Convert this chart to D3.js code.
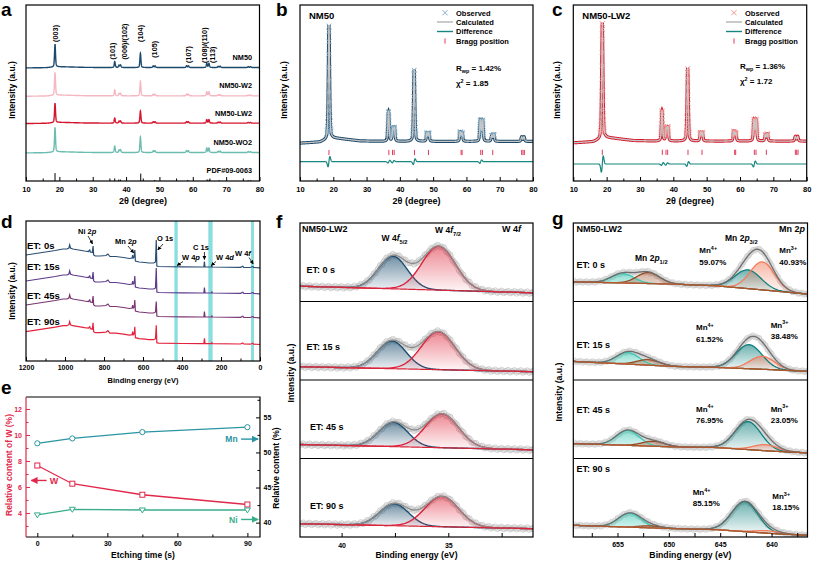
<!DOCTYPE html>
<html><head><meta charset="utf-8">
<script src="https://cdn.jsdelivr.net/npm/d3@7"></script>
<style>
body{margin:0;background:#fff;}
svg{display:block;}
</style></head><body>
<script>
// ================= DATA =================
// XRD (panels a-c): reflections and relative intensities
const xrdPeakPos = [18.7, 36.6, 37.9, 38.35, 44.3, 48.15, 48.7, 58.15, 58.7, 64.2, 64.85, 67.6, 68.2, 76.6, 77.3];
const xrdPeakRel = [1.00, 0.26, 0.10, 0.11, 0.63, 0.07, 0.07, 0.08, 0.07, 0.18, 0.18, 0.05, 0.06, 0.04, 0.04];
const xrdBgPos = [10, 16, 19.5, 22, 28, 35, 80];
const xrdBgVal = [-1, 0, 3.5, 3, 1, 0.5, 0.5];
// panel a
const aSamples = ['NM50', 'NM50-W2', 'NM50-LW2', 'NM50-WO2'];
const aOffset = [64.4, 48.3, 32.8, 16.1];
const aPeakScale = [13, 13, 11, 14];
const aHkl = ['(003)', '(101)', '(006)/(102)', '(104)', '(105)', '(107)', '(108)/(110)', '(113)'];
const aHklPos = [18.7, 35.9, 39.4, 44.4, 48.6, 58.8, 63.5, 65.9];
const aHklBase = [79, 69, 69, 79, 70, 67, 67, 67];
const pdfCard = 'PDF#09-0063';
const pdfPos = [18.7, 36.6, 37.8, 38.3, 44.4, 48.6, 58.5, 64.3, 64.9, 67.9, 76.6, 77.4];
const pdfInt = [4.5, 1.5, 0.8, 0.8, 4.2, 0.6, 0.6, 0.9, 0.7, 0.4, 0.4, 0.4];
// panels b, c (Rietveld)
const rietSample = ['NM50', 'NM50-LW2'];
const rietRwp = ['1.42%', '1.36%'];
const rietChi2 = ['1.85', '1.72'];
const braggPos = [18.7, 36.7, 37.8, 38.3, 44.4, 48.6, 58.4, 58.7, 64.3, 64.8, 67.9, 76.6, 77.0, 77.4];
const diffPos = [18.7, 36.7, 38.0, 44.3, 64.3];
const diffAmp = [[4.5, 1.2, 1.0, 2.5, 1.5], [7.0, 1.2, 1.0, 2.0, 2.5]];
const legendItems = ['Observed', 'Calculated', 'Difference', 'Bragg position'];
// panel d (XPS survey)
const surveyBE = [1200, 1150, 1100, 1050, 1010, 990, 980, 976, 972, 960, 930, 900, 880, 873, 870, 860, 856, 853, 845, 820, 790, 780, 770, 740, 700, 670, 656, 653, 650, 645, 642, 639, 620, 590, 570, 545, 536, 532, 529, 520, 400, 300, 288, 285, 282, 250, 247, 244, 100, 88, 84, 50, 36, 33, 0];
const surveyShape = [0, 1.5, 3, 4.5, 6, 6, 7, 10, 7, 6, 5, 4, 3.5, 5, 3, 2.5, 9, 0, -1, -1, -0.5, 1, -1.5, -1.5, -2.5, -3.5, -3, 0, -3, -2, 5, -6, -7, -7.5, -8, -8, -7, 0, -11, -11.5, -11.8, -12, -12, -6.5, -12, -12, -11, -12, -12.3, -11.2, -12.3, -12.5, -11.5, -12.5, -12.8];
const surveyEtch = ['ET: 0s', 'ET: 15s', 'ET: 45s', 'ET: 90s'];
const surveyLevel = [106, 80, 56, 29.3];
const surveyO1s = [15, 13, 3.5, 6.5];
const surveyBands = [[439, 422], [265, 243], [46, 31]];
// panel e
const etchTime = [0, 15, 45, 90];
const contentW = [7.65, 6.25, 5.4, 4.65];
const contentMn = [51.3, 52.0, 52.9, 53.6];
const contentNi = [41.1, 41.9, 41.8, 41.8];
// panel f (W 4f)
const fEtch = ['ET: 0 s', 'ET: 15 s', 'ET: 45 s', 'ET:  90 s'];
const fW52Center = [37.6, 37.65, 37.58, 37.54];
const fW52Amp = [32.6, 27.7, 24.4, 22.0];
const fW72Center = [35.45, 35.47, 35.3, 35.3];
const fW72Amp = [43.9, 38.0, 33.9, 30.4];
const fFwhm = [1.6, 1.85];
const fBgLeft = [15.3, 13.3, 14.0, 13.3];
const fBgRight = [8.7, 8.3, 8.7, 8.3];
// panel g (Mn 2p)
const gEtch = ['ET: 0 s', 'ET: 15 s', 'ET: 45 s', 'ET: 90 s'];
const gMn4 = ['59.07%', '61.52%', '76.95%', '85.15%'];
const gMn3 = ['40.93%', '38.48%', '23.05%', '18.15%'];
const gBgBE = [659.3, 649.6, 645.4, 639.9, 636.5];
const gBg = [[19.7, 17.4, 15.7, 10.7, 7.4], [18.6, 13.6, 12.6, 10.3, 8.6], [15.0, 11.6, 11.0, 7.3, 5.6], [11.7, 8.4, 7.4, 3.4, 1.7]];
const gMn4p12 = [[654.5, 9.4], [654.0, 11.6], [654.0, 15.0], [653.8, 14.0]];
const gMn3p12 = [[652.0, 11.0], [652.0, 5.5], [651.5, 5.0], [651.8, 2.0]];
const gMn4p32 = [[642.3, 18.7], [642.2, 24.0], [642.3, 28.0], [642.6, 30.0]];
const gMn3p32 = [[640.9, 28.0], [640.9, 13.0], [640.6, 6.0], [640.4, 2.5]];
const gFwhm = [2.6, 2.6, 3.0, 2.8];

// ================= HELPERS =================
const F = '"Liberation Sans", Arial, Helvetica, sans-serif';
const svg = d3.select('body').append('svg').attr('width', 813).attr('height', 561);
const defs = svg.append('defs');

function rich(t, parts, size) {
  let shift = 0;
  parts.forEach(p => {
    const [s, st] = Array.isArray(p) ? p : [p, ''];
    const ts = t.append('tspan').text(s);
    let target = 0;
    if (st.includes('sub')) { target = size * 0.3; ts.attr('font-size', size * 0.68); }
    if (st.includes('sup')) { target = -size * 0.42; ts.attr('font-size', size * 0.68); }
    if (st.includes('it')) ts.attr('font-style', 'italic');
    ts.attr('dy', target - shift); shift = target;
  });
}
function txt(g, x, y, s, o = {}) {
  const size = o.size || 8;
  const t = g.append('text').attr('x', x).attr('y', y).attr('font-family', F)
    .attr('font-weight', 'bold').attr('font-size', size).attr('fill', o.fill || '#000');
  if (o.anchor) t.attr('text-anchor', o.anchor);
  if (o.rotate != null) t.attr('transform', `rotate(${o.rotate},${x},${y})`);
  if (Array.isArray(s)) rich(t, s, size); else t.text(s);
  return t;
}
function frame(x0, y0, x1, y1, color) {
  svg.append('rect').attr('x', x0).attr('y', y0).attr('width', x1 - x0).attr('height', y1 - y0)
    .attr('fill', 'none').attr('stroke', color || '#000').attr('stroke-width', 1.2);
}
function styleAxis(g, o) {
  g.select('.domain').remove();
  g.selectAll('text').attr('font-family', F).attr('font-weight', 'bold').attr('font-size', o.size || 7.5).attr('fill', o.color || '#000');
  g.selectAll('line').attr('stroke', o.color || '#000').attr('stroke-width', 1);
}
function axis(kind, scale, pos, major, minor, o = {}) {
  const mk = { b: d3.axisBottom, l: d3.axisLeft, r: d3.axisRight }[kind];
  const tr = kind === 'b' ? `translate(0,${pos})` : `translate(${pos},0)`;
  const g = svg.append('g').attr('transform', tr);
  const ax = mk(scale).tickValues(major).tickSizeInner(-(o.len || 4)).tickSizeOuter(0).tickPadding(o.pad || 5)
    .tickFormat(o.fmt || d3.format('d'));
  g.call(ax); styleAxis(g, o);
  if (minor) {
    const gm = svg.append('g').attr('transform', tr);
    gm.call(mk(scale).tickValues(minor).tickSizeInner(-(o.mlen || 2.5)).tickSizeOuter(0).tickFormat(''));
    styleAxis(gm, o);
  }
}
function clip(id, x0, y0, x1, y1) {
  defs.append('clipPath').attr('id', id).append('rect').attr('x', x0).attr('y', y0).attr('width', x1 - x0).attr('height', y1 - y0);
  return svg.append('g').attr('clip-path', `url(#${id})`);
}
function vgrad(id, color, op) {
  const lg = defs.append('linearGradient').attr('id', id).attr('x1', 0).attr('y1', 0).attr('x2', 0).attr('y2', 1);
  lg.append('stop').attr('offset', '0%').attr('stop-color', color).attr('stop-opacity', op);
  lg.append('stop').attr('offset', '100%').attr('stop-color', color).attr('stop-opacity', 0.03);
}
function marker(id, color) {
  defs.append('marker').attr('id', id).attr('viewBox', '0 0 10 10').attr('refX', 9).attr('refY', 5)
    .attr('markerWidth', 5).attr('markerHeight', 5).attr('orient', 'auto-start-reverse')
    .append('path').attr('d', 'M0,0 L10,5 L0,10 z').attr('fill', color);
}
function arrow(x1, y1, x2, y2, color, id, w) {
  svg.append('line').attr('x1', x1).attr('y1', y1).attr('x2', x2).attr('y2', y2)
    .attr('stroke', color).attr('stroke-width', w || 1).attr('marker-end', `url(#${id})`);
}
marker('arK', '#000'); marker('arW', '#e0284a'); marker('arMn', '#2a95a3'); marker('arNi', '#38ad8c');
const panelLabel = (x, y, s) => txt(svg, x, y, s, { size: 19 });
const gauss = (x, c, a, w) => { const d = (x - c) / w; return a * Math.exp(-2.7726 * d * d); };

const bgXrd = d3.scaleLinear().domain(xrdBgPos).range(xrdBgVal);
function prof(x, w) {
  let s = 0;
  for (let i = 0; i < xrdPeakPos.length; i++) {
    const d = (x - xrdPeakPos[i]) / w;
    s += xrdPeakRel[i] * (0.55 * Math.exp(-2.7726 * d * d) + 0.45 / (1 + 4 * d * d));
  }
  return s;
}

// ================= PANEL a =================
{
  const xA = d3.scaleLinear([10, 80], [26, 259.5]);
  const yA = d3.scaleLinear([0, 100], [181, 5]);
  const cols = ['#1c4a6c', '#f5b8c2', '#d5152e', '#6cbdb1'];
  const xs = d3.range(10, 80.0001, 0.025);
  const g = clip('clipA', 26, 5, 259.5, 181);
  aSamples.forEach((s, k) => {
    const line = d3.line().x(d => xA(d)).y(d => yA(aOffset[k] + aPeakScale[k] * prof(d, 0.35) + 0.15 * bgXrd(d)));
    g.append('path').attr('d', line(xs)).attr('fill', 'none').attr('stroke', cols[k]).attr('stroke-width', 1.4);
    txt(svg, 252, yA(aOffset[k]) - 7.5, s, { size: 7.3, anchor: 'end' });
  });
  pdfPos.forEach((p, i) => {
    g.append('line').attr('x1', xA(p)).attr('x2', xA(p)).attr('y1', yA(0)).attr('y2', yA(pdfInt[i]))
      .attr('stroke', '#000').attr('stroke-width', 1);
  });
  txt(svg, 252, 173, pdfCard, { size: 7.3, anchor: 'end' });
  aHkl.forEach((h, i) => txt(svg, xA(aHklPos[i]) + 2.7, yA(aHklBase[i]), h, { size: 7.3, rotate: -90 }));
  frame(26, 5, 259.5, 181);
  axis('b', xA, 181, d3.range(10, 81, 10), d3.range(15, 80, 10), { pad: 6, size: 7.5 });
  txt(svg, 143, 204, '2θ (degree)', { size: 9, anchor: 'middle' });
  txt(svg, 15, 90, 'Intensity (a.u.)', { size: 8.5, anchor: 'middle', rotate: -90 });
  panelLabel(1, 16, 'a');
}

// ================= PANELS b, c =================
function rietveld(k, x0, x1, dom, lineCol, markCol, legX, rwpX, rwpY) {
  const xs = d3.scaleLinear([10, 80], [x0, x1]);
  const ys = d3.scaleLinear(dom, [181, 5]);
  const g = clip('clipR' + k, x0, 5, x1, 181);
  const X = d3.range(10, 80.0001, 0.02);
  const obs = x => 100 * prof(x, 0.45) + bgXrd(x);
  const line = d3.line().x(d => xs(d)).y(d => ys(obs(d)));
  g.append('path').attr('d', line(X)).attr('fill', 'none').attr('stroke', lineCol).attr('stroke-width', 3.2);
  d3.range(10, 80.0001, 0.04).filter(x => 100 * prof(x, 0.45) > 5).forEach(x => {
    const cx = xs(x), cy = ys(obs(x)), a = 2.2;
    g.append('path').attr('d', `M${cx - a},${cy - a}L${cx + a},${cy + a}M${cx - a},${cy + a}L${cx + a},${cy - a}`)
      .attr('stroke', markCol).attr('stroke-width', 0.8).attr('fill', 'none');
  });
  g.append('path').attr('d', line(X)).attr('fill', 'none').attr('stroke', '#c6c6c6').attr('stroke-width', 1.3);
  const diff = x => {
    let s = 0;
    diffPos.forEach((p, i) => { const d = (x - p) / 0.28; s += diffAmp[k][i] * d * Math.exp(-d * d / 2) * 1.65; });
    return (k === 0 ? -17.3 : -19.3) + s;
  };
  g.append('path').attr('d', d3.line().x(d => xs(d)).y(d => ys(diff(d)))(X)).attr('fill', 'none')
    .attr('stroke', '#17877f').attr('stroke-width', 1.2);
  braggPos.forEach(p => g.append('line').attr('x1', xs(p)).attr('x2', xs(p)).attr('y1', ys(-9.2) - 2.6).attr('y2', ys(-9.2) + 2.6)
    .attr('stroke', '#e23a5c').attr('stroke-width', 1));
  frame(x0, 5, x1, 181);
  axis('b', xs, 181, d3.range(10, 81, 10), d3.range(15, 80, 10), { pad: 6, size: 7.5 });
  txt(svg, (x0 + x1) / 2, 204, '2θ (degree)', { size: 9, anchor: 'middle' });
  txt(svg, x0 - 13, 90, 'Intensity (a.u.)', { size: 8.5, anchor: 'middle', rotate: -90 });
  txt(svg, x0 + 9, 19, rietSample[k], { size: 9.5 });
  const lg = svg.append('g');
  const a = 2.6, ly = [12.7, 22, 31.5, 41];
  lg.append('path').attr('d', `M${legX - a},${ly[0] - a}L${legX + a},${ly[0] + a}M${legX - a},${ly[0] + a}L${legX + a},${ly[0] - a}`)
    .attr('stroke', markCol).attr('stroke-width', 0.9);
  lg.append('line').attr('x1', legX - 8).attr('x2', legX + 8).attr('y1', ly[1]).attr('y2', ly[1]).attr('stroke', '#bdbdbd').attr('stroke-width', 1.6);
  lg.append('line').attr('x1', legX - 8).attr('x2', legX + 8).attr('y1', ly[2]).attr('y2', ly[2]).attr('stroke', '#17877f').attr('stroke-width', 1.4);
  lg.append('line').attr('x1', legX).attr('x2', legX).attr('y1', ly[3] - 2.6).attr('y2', ly[3] + 2.6).attr('stroke', '#e23a5c').attr('stroke-width', 1);
  legendItems.forEach((s, i) => txt(lg, legX + 11, ly[i] + 2.8, s, { size: 7.5 }));
  txt(svg, rwpX, rwpY, ['R', ['wp', 'sub'], ' = ' + rietRwp[k]], { size: 8 });
  txt(svg, rwpX, rwpY + 15, ['χ', ['2', 'sup'], ' = ' + rietChi2[k]], { size: 8 });
}
rietveld(0, 300, 533, [-34.3, 120.5], '#1b4868', '#7fa6c2', 445, 456, 71);
panelLabel(276, 16, 'b');
rietveld(1, 573.3, 806.7, [-34, 118.2], '#d8192b', '#f08a8a', 734, 740, 69);
panelLabel(552, 16, 'c');

// ================= PANEL d =================
{
  const xD = d3.scaleLinear([1200, 0], [26, 260]);
  const yD = d3.scaleLinear([0, 140], [361, 221]);
  const cols = ['#2b4f72', '#5d3a8a', '#7a3472', '#e3233d'];
  surveyBands.forEach(b => svg.append('rect').attr('x', xD(b[0])).attr('width', xD(b[1]) - xD(b[0]))
    .attr('y', 221).attr('height', 140).attr('fill', '#8adede'));
  const g = clip('clipD', 26, 221, 260, 361);
  surveyEtch.forEach((s, k) => {
    const vals = surveyShape.map((v, i) => surveyBE[i] === 532 ? surveyO1s[k] : v);
    const line = d3.line().x((d, i) => xD(surveyBE[i])).y((d) => yD(surveyLevel[k] + d));
    g.append('path').attr('d', line(vals)).attr('fill', 'none').attr('stroke', cols[k]).attr('stroke-width', 1.2);
  });
  const ety = [248.5, 270, 298.5, 325];
  surveyEtch.forEach((s, k) => txt(svg, 27, ety[k], s, { size: 9.5 }));
  txt(svg, 78, 234, ['Ni 2', ['p', 'it']], { size: 7.5 });
  arrow(88, 236, xD(856) - 0.5, 244, '#000', 'arK', 0.8);
  txt(svg, 115, 244, ['Mn 2', ['p', 'it']], { size: 7.5 });
  arrow(128, 246, xD(642) - 1, 253, '#000', 'arK', 0.8);
  txt(svg, 157, 240.5, 'O 1s', { size: 7.5 });
  arrow(163, 244, xD(532) + 1.5, 250, '#000', 'arK', 0.8);
  txt(svg, 193, 250, 'C 1s', { size: 7.5 });
  arrow(xD(285), 252, xD(285), 259.5, '#000', 'arK', 0.8);
  txt(svg, 182, 260, ['W 4', ['p', 'it']], { size: 7.5 });
  arrow(183, 261.5, xD(425), 265.5, '#000', 'arK', 0.8);
  txt(svg, 216, 260, ['W 4', ['d', 'it']], { size: 7.5 });
  arrow(216, 261.5, xD(250), 265.5, '#000', 'arK', 0.8);
  txt(svg, 235, 255.5, ['W 4', ['f', 'it']], { size: 7.5 });
  arrow(249, 257.5, xD(35), 264, '#000', 'arK', 0.8);
  frame(26, 221, 260, 361);
  axis('b', xD, 361, d3.range(0, 1201, 200), d3.range(100, 1200, 200), { pad: 4.5, size: 7 });
  txt(svg, 143, 382.5, 'Binding energy (eV)', { size: 7.5, anchor: 'middle' });
  txt(svg, 15, 291, 'Intensity (a.u.)', { size: 8.5, anchor: 'middle', rotate: -90 });
  panelLabel(1, 228, 'd');
}

// ================= PANEL e =================
{
  const xE = d3.scaleLinear([-4.85, 95.4], [26, 260]);
  const yL = d3.scaleLinear([2.15, 12.92], [537, 397]);
  const yR = d3.scaleLinear([37.95, 57.9], [537, 397]);
  const cMn = '#2a95a3', cW = '#e0284a', cNi = '#38ad8c';
  const ln = (ys, vals) => d3.line().x((d, i) => xE(etchTime[i])).y(d => ys(d))(vals);
  svg.append('path').attr('d', ln(yR, contentMn)).attr('fill', 'none').attr('stroke', cMn).attr('stroke-width', 1.3);
  svg.append('path').attr('d', ln(yL, contentW)).attr('fill', 'none').attr('stroke', cW).attr('stroke-width', 1.3);
  svg.append('path').attr('d', ln(yR, contentNi)).attr('fill', 'none').attr('stroke', cNi).attr('stroke-width', 1.3);
  etchTime.forEach((t, i) => {
    svg.append('circle').attr('cx', xE(t)).attr('cy', yR(contentMn[i])).attr('r', 2.6).attr('fill', '#fff').attr('stroke', cMn).attr('stroke-width', 1);
    svg.append('rect').attr('x', xE(t) - 2.5).attr('y', yL(contentW[i]) - 2.5).attr('width', 5).attr('height', 5).attr('fill', '#fff').attr('stroke', cW).attr('stroke-width', 1);
    const cx = xE(t), cy = yR(contentNi[i]);
    svg.append('path').attr('d', `M${cx - 3},${cy - 2}L${cx + 3},${cy - 2}L${cx},${cy + 3}Z`).attr('fill', '#fff').attr('stroke', cNi).attr('stroke-width', 1);
  });
  arrow(xE(4), yL(6.5), xE(-2.6), yL(6.5), cW, 'arW', 1.4);
  txt(svg, xE(5.3), yL(6.5) + 3.5, 'W', { size: 9, fill: cW });
  arrow(xE(87.3), yR(51.9), xE(94.6), yR(51.9), cMn, 'arMn', 1.4);
  txt(svg, xE(85.8), yR(51.9) + 3.2, 'Mn', { size: 8.5, fill: cMn, anchor: 'end' });
  arrow(xE(87.3), yR(40.45), xE(94.6), yR(40.45), cNi, 'arNi', 1.4);
  txt(svg, xE(85.8), yR(40.45) + 3.2, 'Ni', { size: 8.5, fill: cNi, anchor: 'end' });
  svg.append('path').attr('d', 'M26,397L260,397L260,537L26,537').attr('fill', 'none').attr('stroke', '#000').attr('stroke-width', 1.2);
  svg.append('line').attr('x1', 26).attr('x2', 26).attr('y1', 397).attr('y2', 537).attr('stroke', cW).attr('stroke-width', 1.2);
  axis('b', xE, 537, [0, 30, 60, 90], [15, 45, 75], { pad: 4.5, size: 7 });
  axis('l', yL, 26, [4, 6, 8, 10, 12], [3, 5, 7, 9, 11], { pad: 4, size: 7, color: cW });
  axis('r', yR, 260, [40, 45, 50, 55], [42.5, 47.5, 52.5, 57.5], { pad: 3.5, size: 7 });
  txt(svg, 143, 558, 'Etching time (s)', { size: 8.5, anchor: 'middle' });
  txt(svg, 12, 465, 'Relative content of W (%)', { size: 8.5, anchor: 'middle', rotate: -90, fill: cW });
  txt(svg, 279, 468, 'Relative content (%)', { size: 8.5, anchor: 'middle', rotate: -90 });
  panelLabel(1, 394, 'e');
}

// ================= PANEL f =================
{
  const x0 = 300, x1 = 533, top = 223, H = 78.5;
  const xF = d3.scaleLinear([41.95, 31.03], [x0, x1]);
  vgrad('gBlue', '#1d4e70', 0.62); vgrad('gRed', '#e0283c', 0.55);
  const E = d3.range(31.0, 42.0, 0.04);
  fEtch.forEach((lab, k) => {
    const y0 = top + k * H;
    const yS = d3.scaleLinear([0, H], [y0 + H, y0]);
    const bg = e => fBgRight[k] + (fBgLeft[k] - fBgRight[k]) * (e - 31.03) / (41.95 - 31.03);
    const p1 = e => gauss(e, fW52Center[k], fW52Amp[k], fFwhm[0]);
    const p2 = e => gauss(e, fW72Center[k], fW72Amp[k], fFwhm[1]);
    const env = e => bg(e) + p1(e) + p2(e);
    const g = clip('clipF' + k, x0, y0, x1, y0 + H);
    g.append('path').attr('d', d3.line().x(e => xF(e)).y(e => yS(env(e)))(E)).attr('fill', 'none').attr('stroke', '#e2e2e2').attr('stroke-width', 6);
    d3.range(31.0, 42.0, 0.1).forEach((e, i) => g.append('circle').attr('cx', xF(e)).attr('cy', yS(env(e)) + (i % 3 - 1) * 1.2).attr('r', 2.6)
      .attr('fill', 'none').attr('stroke', '#c2c2c2').attr('stroke-width', 0.7));
    const area = f => d3.area().x(e => xF(e)).y0(e => yS(bg(e))).y1(e => yS(bg(e) + f(e)))(E);
    const curve = f => d3.line().x(e => xF(e)).y(e => yS(bg(e) + f(e)))(E);
    g.append('path').attr('d', area(p1)).attr('fill', 'url(#gBlue)');
    g.append('path').attr('d', curve(p1)).attr('fill', 'none').attr('stroke', '#1d4e70').attr('stroke-width', 1.4);
    g.append('path').attr('d', area(p2)).attr('fill', 'url(#gRed)');
    g.append('path').attr('d', curve(p2)).attr('fill', 'none').attr('stroke', '#e0203a').attr('stroke-width', 1.4);
    g.append('path').attr('d', d3.line().x(e => xF(e)).y(e => yS(env(e)))(E)).attr('fill', 'none').attr('stroke', '#8c8c8c').attr('stroke-width', 1.3);
    g.append('path').attr('d', d3.line().x(e => xF(e)).y(e => yS(bg(e)))(E)).attr('fill', 'none').attr('stroke', '#d9253a').attr('stroke-width', 1.2);
    txt(svg, k < 2 ? 306.5 : 310, y0 + [50, 48.5, 50, 50][k], lab, { size: 9 });
    if (k > 0) svg.append('line').attr('x1', x0).attr('x2', x1).attr('y1', y0).attr('y2', y0).attr('stroke', '#000').attr('stroke-width', 1.2);
  });
  txt(svg, 302, 231.5, 'NM50-LW2', { size: 9 });
  txt(svg, 521, 231.5, ['W 4', ['f', 'it']], { size: 9, anchor: 'end' });
  txt(svg, 381.5, 241, ['W 4', ['f', 'it'], ['5/2', 'sub']], { size: 8.5 });
  txt(svg, 435, 233, ['W 4', ['f', 'it'], ['7/2', 'sub']], { size: 8.5 });
  frame(x0, top, x1, top + 4 * H);
  axis('b', xF, top + 4 * H, [40, 35], [37.5, 32.5], { pad: 6.5, size: 7, mlen: 4 });
  txt(svg, (x0 + x1) / 2, 558, 'Binding energy (eV)', { size: 8.7, anchor: 'middle' });
  txt(svg, 293.5, 373, 'Intensity (a.u.)', { size: 8.7, anchor: 'middle', rotate: -90 });
  panelLabel(276, 228, 'f');
}

// ================= PANEL g =================
{
  const x0 = 573.3, x1 = 807.5, top = 223, H = 78.5;
  const xG = d3.scaleLinear([659.3, 636.5], [x0, x1]);
  const cols = ['#3cc8b4', '#9a4a22', '#0d7f7d', '#f27c5c'];
  vgrad('gC0', cols[0], 0.6); vgrad('gC1', cols[1], 0.45); vgrad('gC2', cols[2], 0.6); vgrad('gC3', cols[3], 0.55);
  const E = d3.range(636.4, 659.4, 0.08);
  const comps = [gMn4p12, gMn3p12, gMn4p32, gMn3p32];
  gEtch.forEach((lab, k) => {
    const y0 = top + k * H;
    const yS = d3.scaleLinear([0, H], [y0 + H, y0]);
    const bgS = d3.scaleLinear().domain(gBgBE).range(gBg[k]);
    const bg = e => bgS(e);
    const pk = comps.map((c, j) => e => gauss(e, c[k][0], c[k][1], gFwhm[j]));
    const env = e => bg(e) + pk.reduce((s, f) => s + f(e), 0);
    const g = clip('clipG' + k, x0, y0, x1, y0 + H);
    g.append('path').attr('d', d3.line().x(e => xG(e)).y(e => yS(env(e)))(E)).attr('fill', 'none').attr('stroke', '#e0e0e0').attr('stroke-width', 6);
    d3.range(636.4, 659.4, 0.2).forEach((e, i) => g.append('circle').attr('cx', xG(e)).attr('cy', yS(env(e)) + (i % 3 - 1) * 1.1).attr('r', 2.4)
      .attr('fill', 'none').attr('stroke', '#c8c8c8').attr('stroke-width', 0.6));
    pk.forEach((f, j) => g.append('path').attr('d', d3.area().x(e => xG(e)).y0(e => yS(bg(e))).y1(e => yS(bg(e) + f(e)))(E)).attr('fill', `url(#gC${j})`));
    pk.forEach((f, j) => g.append('path').attr('d', d3.line().x(e => xG(e)).y(e => yS(bg(e) + f(e)))(E)).attr('fill', 'none').attr('stroke', cols[j]).attr('stroke-width', 1.3));
    g.append('path').attr('d', d3.line().x(e => xG(e)).y(e => yS(env(e)))(E)).attr('fill', 'none').attr('stroke', '#6e6e6e').attr('stroke-width', 1.3);
    g.append('path').attr('d', d3.line().x(e => xG(e)).y(e => yS(bg(e)))(E)).attr('fill', 'none').attr('stroke', '#b0562a').attr('stroke-width', 1.2);
    if (k > 0) svg.append('line').attr('x1', x0).attr('x2', x1).attr('y1', y0).attr('y2', y0).attr('stroke', '#000').attr('stroke-width', 1.2);
  });
  const ly = [[267.5, 253, 264.5], [348, 330, 341.5], [412.5, 411.5, 422.5], [471.5, 495, 506]];
  const mn3y = [[253, 264.5], [327.5, 338.5], [411.5, 422.5], [499, 510]];
  const mn4x = [699.3, 696, 696, 692.7], mn3x = [779.3, 770.7, 770.7, 772.3];
  gEtch.forEach((lab, k) => {
    txt(svg, 576.5, ly[k][0], lab, { size: 9 });
    txt(svg, mn4x[k], ly[k][1], ['Mn', ['4+', 'sup']], { size: 8 });
    txt(svg, mn4x[k], ly[k][2], gMn4[k], { size: 8 });
    txt(svg, mn3x[k], mn3y[k][0], ['Mn', ['3+', 'sup']], { size: 8 });
    txt(svg, mn3x[k], mn3y[k][1], gMn3[k], { size: 8 });
  });
  txt(svg, 576.5, 231.5, 'NM50-LW2', { size: 9 });
  txt(svg, 805, 231.5, ['Mn 2', ['p', 'it']], { size: 9, anchor: 'end' });
  txt(svg, 635, 261, ['Mn 2', ['p', 'it'], ['1/2', 'sub']], { size: 8.5 });
  txt(svg, 725, 241, ['Mn 2', ['p', 'it'], ['3/2', 'sub']], { size: 8.5 });
  frame(x0, top, x1, top + 4 * H);
  axis('b', xG, top + 4 * H, [655, 650, 645, 640], [657.5, 652.5, 647.5, 642.5, 637.5], { pad: 5, size: 7, mlen: 4 });
  txt(svg, (x0 + x1) / 2, 557.5, 'Binding energy (eV)', { size: 8.7, anchor: 'middle' });
  txt(svg, 562, 392, 'Intensity (a.u.)', { size: 8.7, anchor: 'middle', rotate: -90 });
  panelLabel(552, 225, 'g');
}
</script></body></html>
